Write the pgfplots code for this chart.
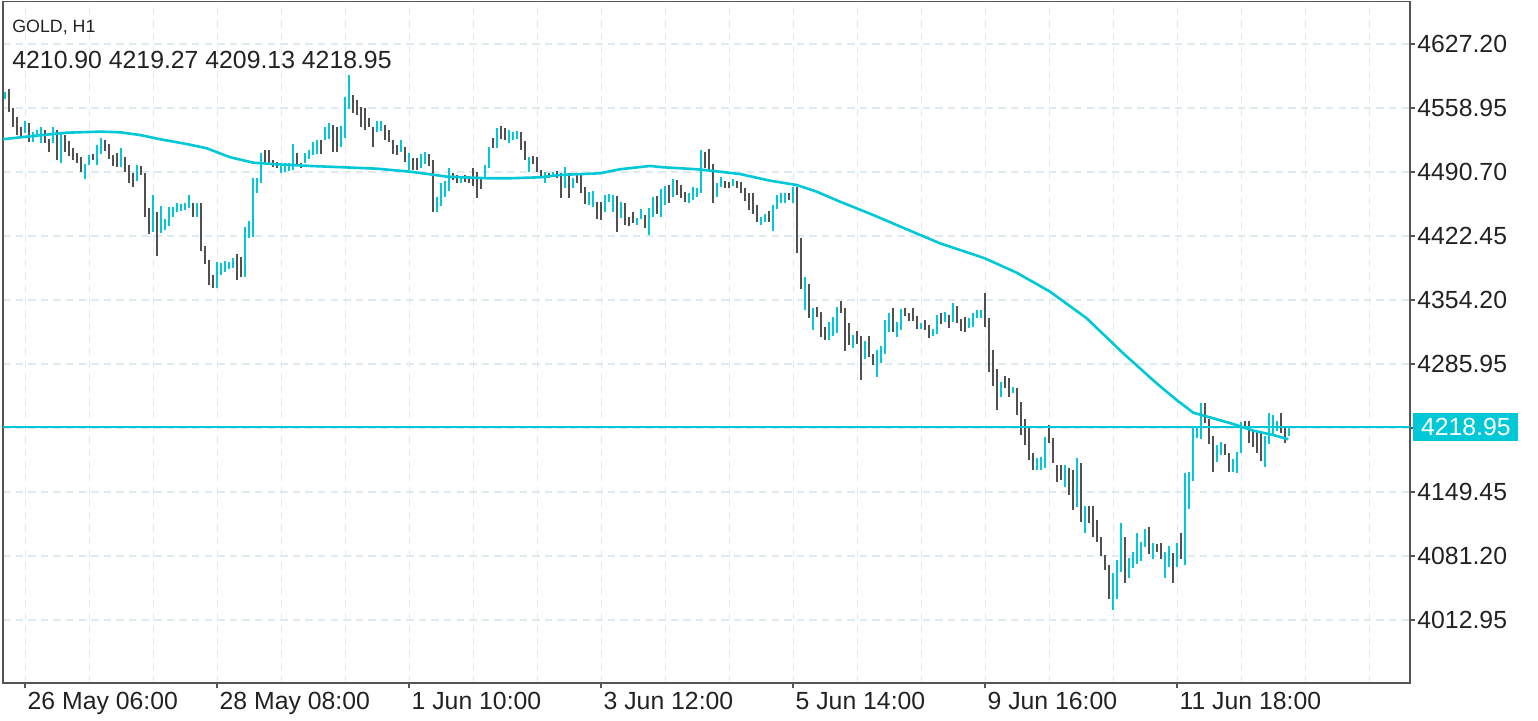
\documentclass[border=0pt]{standalone}
\usepackage{fontspec}
\setmainfont{Liberation Sans}
\usepackage{pgfplots}
\pgfplotsset{compat=1.18}
\usepackage{pgfplotstable}

\definecolor{upc}{RGB}{0,200,214}
\definecolor{dnc}{RGB}{80,80,80}
\definecolor{axc}{RGB}{85,85,85}
\definecolor{gridc}{RGB}{222,233,240}
\definecolor{txt}{RGB}{34,34,34}

% hourly bars: index, low, high, up(1)/down(0)
\pgfplotstableread{
k l h d
0 4568.2 4576.3 1
1 4555.0 4578.9 0
2 4538.7 4559.0 0
3 4530.1 4549.3 0
4 4529.1 4538.7 0
5 4532.3 4545.1 1
6 4522.7 4542.9 0
7 4522.7 4533.3 1
8 4528.0 4535.5 1
9 4521.6 4538.7 1
10 4521.6 4535.5 0
11 4512.0 4525.9 0
12 4521.6 4538.7 1
13 4503.5 4535.5 0
14 4500.3 4532.3 1
15 4512.0 4530.1 0
16 4507.7 4523.7 0
17 4503.5 4516.3 0
18 4500.3 4510.9 0
19 4490.7 4506.7 0
20 4483.2 4499.2 1
21 4498.2 4508.8 1
22 4503.5 4509.9 0
23 4498.2 4519.5 1
24 4509.9 4526.9 1
25 4513.1 4524.8 0
26 4504.5 4520.5 0
27 4497.1 4508.8 0
28 4496.0 4510.9 0
29 4496.0 4516.3 1
30 4490.7 4506.7 0
31 4478.9 4498.2 0
32 4474.7 4489.6 0
33 4481.1 4498.2 1
34 4487.5 4497.1 0
35 4442.7 4489.6 0
36 4424.6 4452.3 0
37 4426.7 4466.1 1
38 4401.1 4448.0 0
39 4425.6 4454.4 1
40 4428.8 4440.6 1
41 4433.1 4453.3 1
42 4442.7 4453.3 1
43 4448.0 4457.6 1
44 4449.1 4456.5 1
45 4450.2 4457.6 1
46 4452.3 4466.1 1
47 4442.7 4457.6 0
48 4442.7 4457.6 1
49 4406.4 4457.6 0
50 4392.6 4411.8 0
51 4370.2 4396.8 0
52 4367.0 4380.8 0
53 4367.0 4394.7 1
54 4380.8 4393.6 1
55 4384.0 4395.8 1
56 4387.2 4394.7 1
57 4388.3 4399.0 1
58 4375.5 4403.2 0
59 4378.7 4400.0 0
60 4378.7 4432.0 1
61 4420.3 4438.4 1
62 4421.4 4484.3 1
63 4468.3 4484.3 1
64 4478.9 4510.9 1
65 4500.3 4514.1 0
66 4498.2 4514.1 0
67 4496.0 4503.5 0
68 4494.9 4501.3 0
69 4489.6 4500.3 1
70 4490.7 4500.3 1
71 4491.7 4500.3 1
72 4492.8 4520.5 1
73 4498.2 4510.9 0
74 4494.9 4500.3 0
75 4500.3 4510.9 1
76 4504.5 4514.1 1
77 4508.8 4522.7 1
78 4509.9 4524.8 1
79 4509.9 4524.8 0
80 4524.8 4538.7 1
81 4525.9 4542.9 1
82 4512.0 4540.8 0
83 4512.0 4538.7 0
84 4517.3 4539.7 1
85 4526.9 4570.7 1
86 4557.9 4594.1 1
87 4553.6 4572.8 0
88 4551.5 4567.5 0
89 4538.7 4560.0 0
90 4535.5 4559.0 0
91 4538.7 4548.3 0
92 4517.3 4538.7 0
93 4533.3 4545.1 1
94 4534.4 4545.1 1
95 4524.8 4540.8 0
96 4522.7 4535.5 0
97 4509.9 4524.8 0
98 4508.8 4519.5 0
99 4512.0 4524.8 1
100 4501.3 4517.3 0
101 4492.8 4510.9 1
102 4492.8 4505.6 0
103 4492.8 4505.6 0
104 4494.9 4509.9 1
105 4499.2 4512.0 1
106 4497.1 4509.9 0
107 4448.0 4503.5 0
108 4448.0 4464.0 1
109 4454.4 4478.9 1
110 4464.0 4481.1 1
111 4470.4 4494.9 1
112 4482.1 4489.6 0
113 4478.9 4487.5 0
114 4478.9 4485.3 1
115 4480.0 4487.5 0
116 4478.9 4486.4 0
117 4475.8 4494.9 0
118 4462.9 4490.7 0
119 4472.6 4485.3 0
120 4485.3 4498.2 1
121 4494.9 4517.3 1
122 4516.3 4526.9 0
123 4516.3 4537.6 1
124 4525.9 4539.7 0
125 4524.8 4537.6 0
126 4521.6 4535.5 1
127 4524.8 4533.3 1
128 4525.9 4534.4 1
129 4514.1 4533.3 0
130 4503.5 4523.7 0
131 4490.7 4506.7 1
132 4499.2 4507.7 0
133 4490.7 4506.7 0
134 4484.3 4492.8 0
135 4478.9 4490.7 1
136 4484.3 4489.6 0
137 4487.5 4490.7 1
138 4484.3 4491.7 0
139 4462.9 4489.6 0
140 4473.6 4496.0 1
141 4462.9 4489.6 0
142 4473.6 4484.3 1
143 4478.9 4488.5 0
144 4468.3 4488.5 0
145 4456.5 4474.7 0
146 4455.5 4469.4 1
147 4453.3 4470.4 1
148 4440.6 4458.7 0
149 4439.5 4458.7 0
150 4448.0 4466.1 1
151 4458.7 4467.2 1
152 4448.0 4466.1 1
153 4426.7 4465.1 0
154 4441.6 4458.7 1
155 4434.2 4457.6 0
156 4433.1 4442.7 0
157 4436.3 4448.0 0
158 4434.2 4441.6 1
159 4440.6 4451.2 1
160 4431.0 4444.8 0
161 4423.5 4452.3 1
162 4442.7 4464.0 1
163 4445.9 4465.1 0
164 4442.7 4472.6 1
165 4455.5 4475.8 1
166 4457.6 4476.8 0
167 4464.0 4483.2 1
168 4466.1 4482.1 0
169 4462.9 4476.8 0
170 4458.7 4469.4 0
171 4457.6 4468.3 1
172 4460.8 4474.7 1
173 4464.0 4473.6 1
174 4468.3 4514.1 1
175 4494.9 4512.0 0
176 4493.9 4515.2 0
177 4457.6 4499.2 0
178 4464.0 4478.9 1
179 4474.7 4485.3 1
180 4473.6 4481.1 0
181 4473.6 4480.0 0
182 4475.8 4483.2 1
183 4473.6 4481.1 0
184 4468.3 4480.0 0
185 4459.7 4473.6 0
186 4450.2 4468.3 0
187 4445.9 4468.3 0
188 4437.4 4455.5 0
189 4434.2 4442.7 1
190 4437.4 4445.9 1
191 4437.4 4449.1 0
192 4427.8 4455.5 1
193 4451.2 4466.1 1
194 4457.6 4468.3 1
195 4457.6 4468.3 1
196 4460.8 4468.3 0
197 4457.6 4474.7 1
198 4404.3 4474.7 0
199 4365.9 4420.3 0
200 4343.5 4378.7 1
201 4335.0 4371.2 0
202 4322.2 4345.7 1
203 4336.1 4346.7 0
204 4314.7 4341.4 0
205 4311.5 4325.4 0
206 4311.5 4330.7 1
207 4315.8 4336.1 1
208 4319.0 4346.7 1
209 4340.3 4353.1 0
210 4299.8 4345.7 0
211 4306.2 4329.7 0
212 4303.0 4316.9 1
213 4307.3 4321.1 0
214 4268.9 4315.8 0
215 4291.3 4310.5 1
216 4293.4 4315.8 0
217 4284.9 4296.6 0
218 4272.1 4300.9 1
219 4287.0 4305.1 1
220 4296.6 4332.8 1
221 4320.1 4340.3 1
222 4320.1 4345.7 0
223 4314.7 4330.7 1
224 4322.2 4344.6 1
225 4337.1 4345.7 0
226 4331.8 4340.3 0
227 4331.8 4345.7 0
228 4323.3 4337.1 0
229 4323.3 4329.7 1
230 4322.2 4332.8 0
231 4313.7 4327.5 0
232 4315.8 4323.3 1
233 4317.9 4338.2 1
234 4328.6 4340.3 0
235 4330.7 4341.4 1
236 4324.3 4338.2 0
237 4330.7 4351.0 1
238 4329.7 4347.8 0
239 4321.1 4333.9 0
240 4320.1 4336.1 0
241 4324.3 4335.0 1
242 4325.4 4340.3 1
243 4335.0 4343.5 1
244 4335.0 4343.5 1
245 4325.4 4361.6 0
246 4277.4 4335.0 0
247 4262.5 4300.9 0
248 4236.9 4280.6 0
249 4250.7 4266.7 1
250 4260.3 4273.1 0
251 4250.7 4271.0 0
252 4255.0 4261.4 1
253 4231.5 4260.3 0
254 4210.2 4245.4 0
255 4199.5 4227.3 0
256 4183.6 4217.7 0
257 4172.9 4191.0 0
258 4172.9 4185.7 1
259 4172.9 4186.8 1
260 4175.0 4208.1 1
261 4201.7 4220.9 0
262 4180.4 4207.0 0
263 4160.1 4178.2 0
264 4162.2 4178.2 0
265 4154.8 4178.2 1
266 4146.2 4175.0 0
267 4130.2 4172.9 0
268 4133.4 4185.7 1
269 4117.4 4180.4 0
270 4105.7 4134.5 1
271 4116.4 4134.5 0
272 4101.4 4134.5 0
273 4096.1 4119.6 0
274 4081.2 4101.4 0
275 4066.2 4082.3 0
276 4035.3 4071.6 0
277 4023.6 4063.1 1
278 4035.3 4076.9 1
279 4064.1 4116.4 1
280 4052.4 4101.4 0
281 4057.7 4079.1 1
282 4068.4 4085.5 1
283 4072.7 4105.7 1
284 4075.9 4096.1 1
285 4090.8 4110.0 1
286 4083.3 4112.1 0
287 4078.0 4095.0 1
288 4085.5 4094.0 0
289 4078.0 4095.0 0
290 4057.7 4085.5 1
291 4069.5 4091.8 1
292 4052.4 4084.4 0
293 4069.5 4095.0 1
294 4078.0 4105.7 0
295 4071.6 4169.7 1
296 4131.3 4170.8 1
297 4161.2 4218.8 1
298 4207.0 4218.8 1
299 4206.0 4244.4 1
300 4223.0 4244.4 0
301 4200.6 4227.3 0
302 4170.8 4209.2 0
303 4181.4 4199.6 1
304 4188.9 4202.8 1
305 4188.9 4200.6 0
306 4170.8 4191.0 0
307 4170.8 4184.6 1
308 4169.7 4192.1 1
309 4191.0 4224.1 1
310 4217.7 4225.1 0
311 4201.7 4225.1 0
312 4197.4 4215.6 0
313 4191.0 4214.5 0
314 4182.5 4212.3 0
315 4176.1 4209.2 1
316 4200.6 4233.7 1
317 4209.2 4231.6 1
318 4214.5 4225.1 1
319 4212.3 4233.7 0
320 4201.7 4218.8 0
321 4209.13 4219.27 1
}\bars

\begin{document}
\begin{tikzpicture}
\useasboundingbox (0,0) rectangle (769pt,360pt);
\begin{axis}[
  at={(1.5pt,18.5pt)}, anchor=south west,
  scale only axis, width=703.5pt, height=340.75pt,
  xmin=-0.575, xmax=351.2, ymin=3945.7, ymax=4672.5,
  axis line style={axc, line width=0.8pt},
  xtick={5,53,101,149,197,245,293},
  xticklabels={26 May 06:00, 28 May 08:00, 1 Jun 10:00, 3 Jun 12:00, 5 Jun 14:00, 9 Jun 16:00, 11 Jun 18:00},
  minor xtick={21,37,69,85,117,133,165,181,213,229,261,277,309,325,341},
  ytick={4012.95,4081.20,4149.45,4217.70,4285.95,4354.20,4422.45,4490.70,4558.95,4627.20},
  yticklabels={4012.95,4081.20,4149.45,,4285.95,4354.20,4422.45,4490.70,4558.95,4627.20},
  xmajorgrids, xminorgrids, ymajorgrids,
  major grid style={gridc, line width=0.65pt, dash pattern=on 3.7pt off 2.6pt},
  minor grid style={gridc, line width=0.65pt, dash pattern=on 3.7pt off 2.6pt},
  xtick pos=bottom, ytick pos=right, yticklabel pos=right,
  tick align=outside, major tick length=2.5pt, minor tick length=0pt,
  tick style={axc, line width=0.8pt},
  ticklabel style={font=\fontsize{12.4}{14}\selectfont, text=txt},
  xticklabel style={anchor=north west, inner sep=0pt, xshift=1pt, yshift=-2pt},
  yticklabel style={anchor=west, inner sep=0pt, xshift=1pt},
]
\addplot[dnc, line width=1pt, quiver={u=0, v=\thisrow{h}-\thisrow{l}},
  restrict expr to domain={\thisrow{d}}{-0.5:0.5}] table[x=k, y=l] {\bars};
\addplot[upc, line width=1pt, quiver={u=0, v=\thisrow{h}-\thisrow{l}},
  restrict expr to domain={\thisrow{d}}{0.5:1.5}] table[x=k, y=l] {\bars};
% moving average
\addplot[upc, line width=1.3pt] coordinates {
(-0.6,4525.6) (7,4529.1) (15.35,4532.6) (23.7,4533.7) (28.7,4533.0)
(33.7,4530.1) (38.7,4525.6) (45.35,4520.5) (50.35,4516.0) (56.2,4506.4)
(62,4500.6) (67.85,4498.9) (76.2,4497.1) (84.5,4495.7) (92.85,4494.2)
(101.2,4491.0) (105.7,4488.5) (110.35,4485.7) (120.35,4484.0) (126.2,4484.0)
(133.7,4485.0) (138.7,4487.5) (148.7,4489.3) (153.7,4493.6) (161.2,4497.1)
(164.5,4495.7) (172.85,4493.6) (177,4491.8) (183.7,4488.5) (191.2,4481.4)
(197.85,4476.8) (202.85,4469.7) (208.7,4459.0) (217,4444.8) (225.35,4429.6)
(233.7,4414.6) (244.9,4398.6) (252.85,4383.3) (261.2,4363.0) (270.35,4334.7)
(279.5,4297.3) (287.85,4265.3) (292.85,4247.5) (297,4234.0) (302,4228.0)
(307,4221.9) (312,4214.8) (317,4210.2) (320.75,4205.6)
};
% last price
\addplot[upc, line width=1pt] coordinates {(-0.575,4218.95) (351.2,4218.95)};
\end{axis}
\node[anchor=base west, inner sep=0pt, font=\fontsize{8.9}{10}\selectfont, text=txt]
  at (6pt,343.9pt) {GOLD, H1};
\node[anchor=base west, inner sep=0pt, font=\fontsize{12.4}{14}\selectfont, text=txt]
  at (6pt,325.9pt) {4210.90 4219.27 4209.13 4218.95};
\node[fill=upc, text=white, anchor=west, minimum width=52.5pt, minimum height=14pt,
  inner sep=0pt, font=\fontsize{12.4}{14}\selectfont] at (706.5pt,146.5pt) {4218.95};
\end{tikzpicture}
\end{document}
